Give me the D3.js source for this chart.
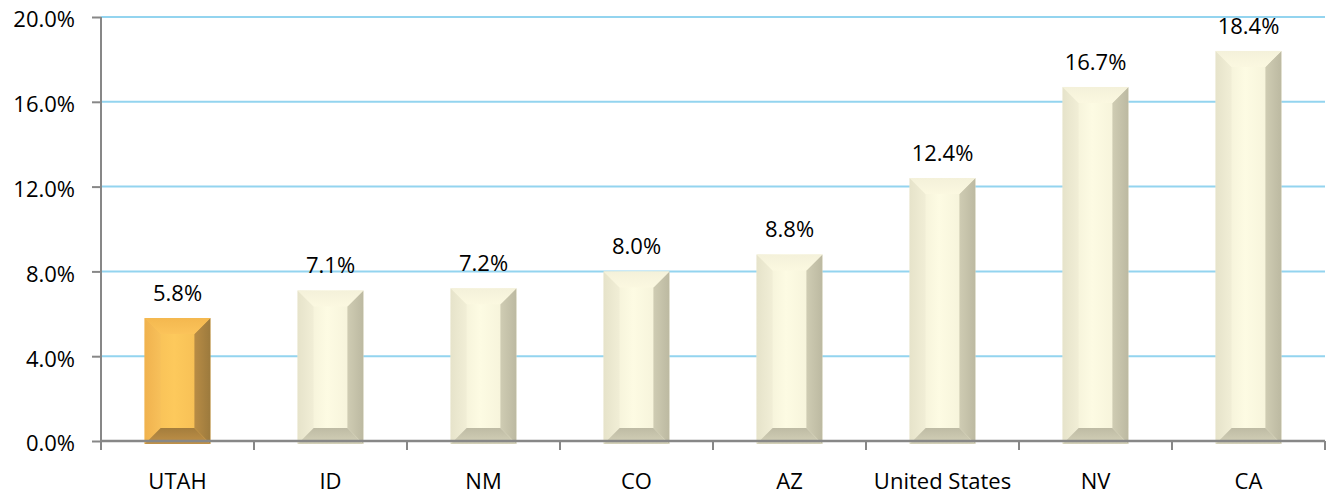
<!DOCTYPE html>
<html>
<head>
<meta charset="utf-8">
<script src="https://cdn.jsdelivr.net/npm/d3@7"></script>
<style>
  html, body { margin: 0; padding: 0; background: #fff; }
  svg { display: block; font-family: "Open Sans", Lato, sans-serif; }
</style>
</head>
<body>
<div id="chart"></div>
<script>
'use strict';

const categories = ['UTAH', 'ID', 'NM', 'CO', 'AZ', 'United States', 'NV', 'CA'];
const values = [5.8, 7.1, 7.2, 8.0, 8.8, 12.4, 16.7, 18.4];
const yTicks = [0, 4, 8, 12, 16, 20];
const highlight = 'UTAH';

const W = 1328, H = 498;
const margin = { top: 17, right: 3, bottom: 57, left: 101 };
const width = W - margin.left - margin.right;
const height = H - margin.top - margin.bottom;
const fontSize = '22px';

const svg = d3.select('#chart')
  .append('svg')
    .attr('width', W)
    .attr('height', H);

// gradients for the bevelled bars
const defs = svg.append('defs');
const palettes = {
  gold:  { face: ['#f6bd55', '#fdc95c', '#f3bb52'], left: ['#f0b24e', '#f7c05a'], right: ['#b88c45', '#9c7a3d'],
           top: ['#f4b84f', '#fbc35a'], bottom: ['#a47d3c', '#c09148'] },
  cream: { face: ['#efecd3', '#fdfbe3', '#f2efd6'], left: ['#e6e3ca', '#f1eed6'], right: ['#cfccb3', '#bcb9a1'],
           top: ['#f4f1da', '#fbf8e0'], bottom: ['#bebba4', '#d4d1b8'] }
};
Object.entries(palettes).forEach(([k, p]) => {
  const face = defs.append('linearGradient').attr('id', `${k}-face`).attr('x1', 0).attr('x2', 1).attr('y1', 0).attr('y2', 0);
  face.append('stop').attr('offset', '0%').attr('stop-color', p.face[0]);
  face.append('stop').attr('offset', '45%').attr('stop-color', p.face[1]);
  face.append('stop').attr('offset', '100%').attr('stop-color', p.face[2]);
  const lr = (id, c, x2, y2) => {
    const g = defs.append('linearGradient').attr('id', `${k}-${id}`).attr('x1', 0).attr('y1', 0).attr('x2', x2).attr('y2', y2);
    g.append('stop').attr('offset', '0%').attr('stop-color', c[0]);
    g.append('stop').attr('offset', '100%').attr('stop-color', c[1]);
  };
  lr('left', p.left, 1, 0);
  lr('right', p.right, 1, 0);
  lr('top', p.top, 0, 1);
  lr('bottom', p.bottom, 0, 1);
});

const graph = svg.append('g')
    .attr('transform', `translate(${margin.left}, ${margin.top})`);

const x = d3.scaleBand().domain(categories).range([0, width]).paddingInner(0.57).paddingOuter(0.285);
const xTicks = d3.scaleBand().domain(categories).range([0, width]);
const y = d3.scaleLinear().domain([0, 20]).range([height, 0]);

// gridlines
graph.append('g')
  .selectAll('line')
  .data(yTicks.filter(t => t > 0))
  .enter().append('line')
    .attr('x1', 0)
    .attr('x2', width)
    .attr('y1', d => y(d))
    .attr('y2', d => y(d))
    .style('stroke', '#93d4ef')
    .style('stroke-width', 2);

// y axis
const yAxis = graph.append('g')
    .call(d3.axisLeft(y).tickValues(yTicks).tickSize(9).tickPadding(17).tickFormat(d => d.toFixed(1) + '%'));
yAxis.select('.domain').attr('d', `M0,0V${height}`);
yAxis.selectAll('path, line').style('stroke', '#878787').style('stroke-width', 2);
yAxis.selectAll('text')
    .attr('dy', '0.45em')
    .style('font-size', fontSize)
    .style('font-family', '"Open Sans", Lato, sans-serif')
    .style('fill', '#000');

// bars
const bev = 16;
const bars = graph.selectAll('.bar')
  .data(categories.map((c, i) => ({ c, v: values[i] })))
  .enter().append('g')
    .attr('class', 'bar');

bars.each(function(d) {
  const g = d3.select(this);
  const k = d.c === highlight ? 'gold' : 'cream';
  const x0 = x(d.c), x1 = x0 + x.bandwidth();
  const y0 = y(d.v), y1 = y(0) + 3;
  const b = Math.min(bev, (y1 - y0) / 2);
  g.append('rect').attr('x', x0).attr('y', y0).attr('width', x1 - x0).attr('height', y1 - y0)
    .style('fill', `url(#${k}-face)`);
  g.append('polygon')
    .attr('points', `${x0},${y0} ${x0 + b},${y0 + b} ${x0 + b},${y1 - b} ${x0},${y1}`)
    .style('fill', `url(#${k}-left)`);
  g.append('polygon')
    .attr('points', `${x1},${y0} ${x1 - b},${y0 + b} ${x1 - b},${y1 - b} ${x1},${y1}`)
    .style('fill', `url(#${k}-right)`);
  g.append('polygon')
    .attr('points', `${x0},${y0} ${x1},${y0} ${x1 - b},${y0 + b} ${x0 + b},${y0 + b}`)
    .style('fill', `url(#${k}-top)`);
  g.append('polygon')
    .attr('points', `${x0},${y1} ${x1},${y1} ${x1 - b},${y1 - b} ${x0 + b},${y1 - b}`)
    .style('fill', `url(#${k}-bottom)`);
});

// value labels
graph.selectAll('.value')
  .data(categories.map((c, i) => ({ c, v: values[i] })))
  .enter().append('text')
    .attr('class', 'value')
    .attr('x', d => x(d.c) + x.bandwidth() / 2)
    .attr('y', d => y(d.v) - 17)
    .attr('text-anchor', 'middle')
    .style('font-size', fontSize)
    .style('fill', '#000')
    .text(d => d.v.toFixed(1) + '%');

// x axis
const xAxis = graph.append('g')
    .attr('transform', `translate(0, ${height})`)
    .call(d3.axisBottom(xTicks).tickSize(0).tickPadding(0).tickFormat(''));
xAxis.select('.domain').attr('d', `M0,0H${width}`).style('stroke', '#878787').style('stroke-width', 2.5);

graph.append('g')
  .selectAll('line')
  .data(d3.range(categories.length + 1))
  .enter().append('line')
    .attr('x1', i => i * xTicks.step())
    .attr('x2', i => i * xTicks.step())
    .attr('y1', height)
    .attr('y2', height + 9)
    .style('stroke', '#878787')
    .style('stroke-width', 2);

graph.append('g')
  .selectAll('text')
  .data(categories)
  .enter().append('text')
    .attr('x', d => xTicks(d) + xTicks.bandwidth() / 2)
    .attr('y', height + 48)
    .attr('text-anchor', 'middle')
    .style('font-size', fontSize)
    .style('fill', '#000')
    .text(d => d);
</script>
</body>
</html>
